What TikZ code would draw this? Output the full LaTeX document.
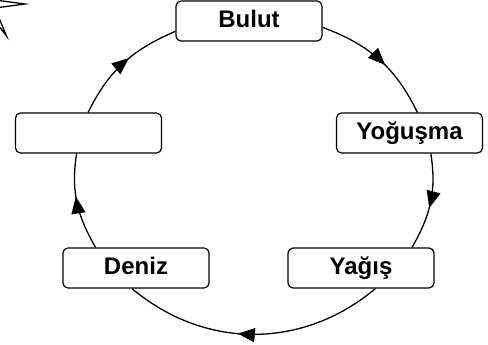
\documentclass[tikz,border=0pt]{standalone}
\usepackage{fontspec}
\setmainfont{Liberation Sans}
\usetikzlibrary{arrows.meta,decorations.markings}
\tikzset{
    kutu/.style = {draw, line width=1.2pt, rounded corners=5pt, fill=white,
        minimum width=146pt, minimum height=40pt, inner sep=0pt,
        text height=18pt, text depth=4pt,
        font=\fontsize{24}{26}\selectfont\bfseries},
    dongu/.style = {line width=1.3pt, postaction={decorate},
        decoration={markings, mark=at position 0.56 with {\arrow{Triangle[length=17pt,width=14pt]}}}}
}
\begin{document}
\begin{tikzpicture}[x=1pt,y=1pt]
    \useasboundingbox (0,0) rectangle (488,345);
    \clip (0,0) rectangle (488,345);
    % yildiz
    \begin{scope}[shift={(-12,341)}]
        \draw[line width=1.3pt, line join=miter] (0:37) \foreach \a in {0,60,...,300} { -- (\a+30:8) -- (\a+60:37) } -- cycle;
    \end{scope}
    \node[kutu] (bulut) at (249,324) {Bulut};
    \node[kutu] (bos) at (88.5,212) {};
    \node[kutu] (yogusma) at (409.5,212) {Yoğuşma};
    \node[kutu] (deniz) at (136,77) {Deniz};
    \node[kutu] (yagis) at (361,77) {Yağış};
    \draw[dongu] (bulut.-5) to[out=-20, in=116] (yogusma.69);
    \draw[dongu] (yogusma.-44) to[out=-81, in=60] (yagis.22);
    \draw[dongu] (yagis.-55) to[out=-140, in=-40] (deniz.-101);
    \draw[dongu] (deniz.153) to[out=120, in=-99] (bos.-120);
    \draw[dongu] (bos.91) to[out=64, in=203] (bulut.188);
\end{tikzpicture}
\end{document}
